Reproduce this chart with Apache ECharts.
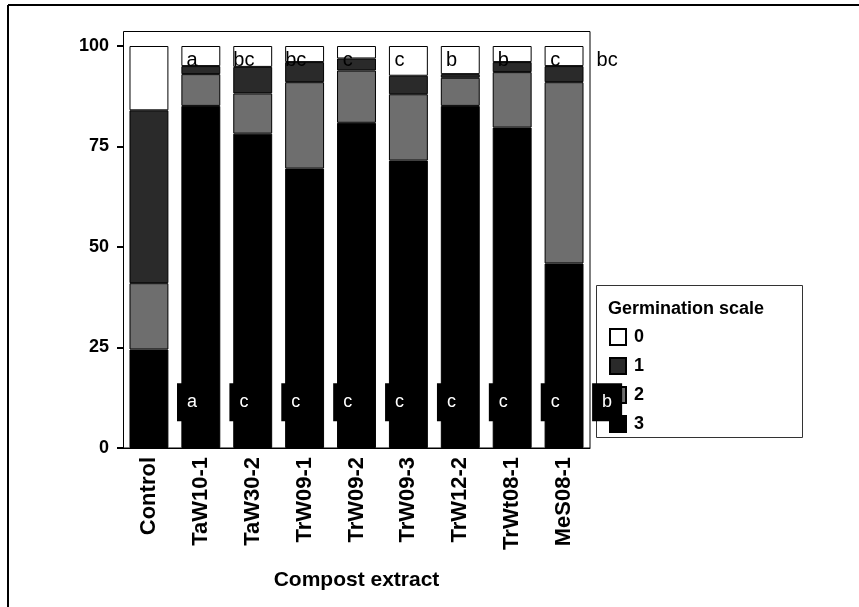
<!DOCTYPE html>
<html>
<head>
<meta charset="utf-8">
<script src="https://cdn.jsdelivr.net/npm/echarts@6/dist/echarts.min.js"></script>
<style>
  html, body { margin: 0; padding: 0; background: #fff; }
  #chart { width: 859px; height: 607px; }
</style>
</head>
<body>
<div id="chart"></div>
<script>
const categories = ['Control', 'TaW10-1', 'TaW30-2', 'TrW09-1', 'TrW09-2', 'TrW09-3', 'TrW12-2', 'TrWt08-1', 'MeS08-1'];
// share of seeds (%) in each germination scale class
const scale3 = [24.5, 85.1, 78.2, 69.5, 80.9, 71.5, 85.1, 79.7, 45.9];
const scale2 = [16.5, 7.9, 10.0, 21.5, 13.0, 16.5, 7.0, 13.8, 45.1];
const scale1 = [43.0, 2.0, 6.6, 5.0, 3.0, 4.6, 0.9, 2.5, 4.0];
const scale0 = [16.0, 5.0, 5.2, 4.0, 3.1, 7.4, 7.0, 4.0, 5.0];
const topLetters = ['a', 'bc', 'bc', 'c', 'c', 'b', 'b', 'c', 'bc'];
const bottomLetters = ['a', 'c', 'c', 'c', 'c', 'c', 'c', 'c', 'b'];
const yTicks = [0, 25, 50, 75, 100];

const font = "'Liberation Sans', Arial, sans-serif";
const chart = echarts.init(document.getElementById('chart'));

function barSeries(name, data, color) {
    return {
        name: name,
        type: 'bar',
        stack: 'germ',
        barWidth: '75%',
        data: data,
        itemStyle: { color: color, borderColor: '#000', borderWidth: 1 },
        emphasis: { disabled: true }
    };
}

// letters sit a bit right of their bar, as in the original figure
const topPoints = topLetters.map((t, i) => [i + 1.33, 96.3]);
const bottomPoints = bottomLetters.map((t, i) => [i + 1.33, 11.4]);

const option = {
    animation: false,
    backgroundColor: '#fff',
    textStyle: { fontFamily: font },
    grid: { left: 123, right: 269, top: 46, bottom: 159 },
    xAxis: [
        {
            type: 'category',
            data: categories,
            axisLine: { lineStyle: { color: '#000', width: 1 } },
            axisTick: { alignWithLabel: true, length: 6, lineStyle: { color: '#000', width: 2 } },
            axisLabel: { rotate: 90, interval: 0, margin: 9, color: '#000', fontWeight: 'bold', fontSize: 22, fontFamily: font },
            name: 'Compost extract',
            nameLocation: 'middle',
            nameGap: 122,
            nameTextStyle: { color: '#000', fontWeight: 'bold', fontSize: 21, fontFamily: font }
        },
        { type: 'value', min: 0, max: 9, show: false }
    ],
    yAxis: {
        type: 'value',
        min: yTicks[0],
        max: yTicks[yTicks.length - 1],
        interval: 25,
        axisLine: { show: true, lineStyle: { color: '#000', width: 1 } },
        axisTick: { show: true, length: 6, lineStyle: { color: '#000', width: 2 } },
        axisLabel: { color: '#000', fontWeight: 'bold', fontSize: 18, margin: 14, fontFamily: font },
        splitLine: { show: false }
    },
    legend: {
        data: ['0', '1', '2', '3'],
        orient: 'vertical',
        left: 604,
        top: 323,
        itemWidth: 16,
        itemHeight: 16,
        itemGap: 11,
        icon: 'rect',
        selectedMode: false,
        textStyle: { color: '#000', fontWeight: 'bold', fontSize: 18, fontFamily: font, padding: [0, 0, 0, 3] }
    },
    graphic: [
        { type: 'line', shape: { x1: 8, y1: 5, x2: 859, y2: 5 }, style: { stroke: '#000', lineWidth: 2 } },
        { type: 'line', shape: { x1: 8, y1: 5, x2: 8, y2: 607 }, style: { stroke: '#000', lineWidth: 2 } },
        // panel frame (the y scale is padded above 100)
        { type: 'rect', shape: { x: 123.5, y: 31.5, width: 466.5, height: 416.5 }, style: { fill: 'none', stroke: '#000', lineWidth: 1 }, z: -1 },
        { type: 'rect', shape: { x: 596.5, y: 285.5, width: 206, height: 152 }, style: { fill: 'none', stroke: '#333', lineWidth: 1 }, z: -1 },
        {
            type: 'text', left: 608, top: 300,
            style: { text: 'Germination scale', fill: '#000', font: 'bold 18px ' + font }
        }
    ],
    series: [
        barSeries('3', scale3, '#000'),
        barSeries('2', scale2, '#6e6e6e'),
        barSeries('1', scale1, '#2a2a2a'),
        barSeries('0', scale0, '#fff'),
        {
            type: 'scatter',
            xAxisIndex: 1,
            data: topPoints,
            symbolSize: 0,
            clip: false,
            z: 10,
            silent: true,
            itemStyle: { opacity: 1 },
            label: {
                show: true,
                position: 'inside',
                formatter: p => topLetters[p.dataIndex],
                color: '#000',
                fontSize: 20,
                fontFamily: font
            }
        },
        {
            type: 'scatter',
            xAxisIndex: 1,
            data: bottomPoints,
            symbolSize: 0,
            clip: false,
            z: 10,
            silent: true,
            itemStyle: { opacity: 1 },
            label: {
                show: true,
                position: 'inside',
                formatter: p => bottomLetters[p.dataIndex],
                color: '#fff',
                backgroundColor: '#000',
                fontSize: 18,
                lineHeight: 18,
                padding: [10, 10],
                fontFamily: font
            }
        }
    ]
};

chart.setOption(option);
</script>
</body>
</html>
